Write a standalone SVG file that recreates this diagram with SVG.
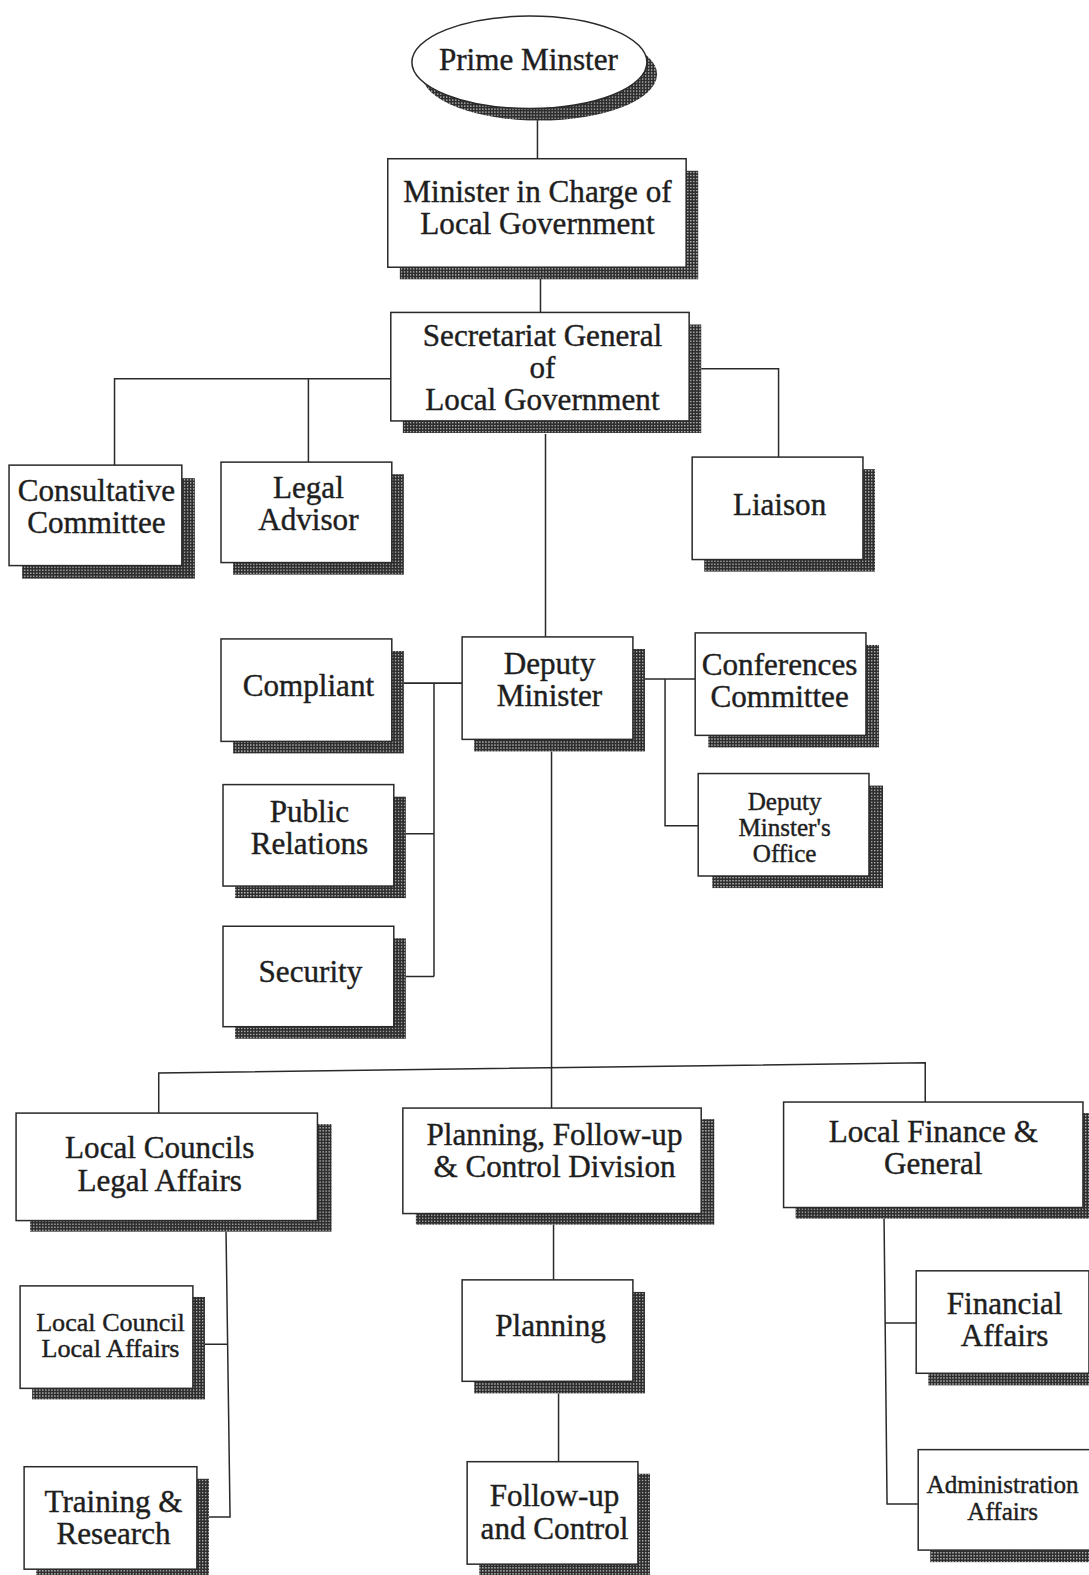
<svg xmlns="http://www.w3.org/2000/svg" width="1089" height="1575" viewBox="0 0 1089 1575">
  <defs>
    <!-- fine halftone used for the drop shadows -->
    <pattern id="dots" width="3" height="3" patternUnits="userSpaceOnUse">
      <rect width="3" height="3" fill="#2e2e2e"/>
      <rect x="0" y="0" width="1.3" height="1.3" fill="#bdbdbd"/>
    </pattern>
  </defs>
  <style>
    .box { fill: #ffffff; stroke: #2a2a2a; stroke-width: 1.5; }
    .shd { fill: url(#dots); }
    .lbl { font-family: "Liberation Serif", "Times New Roman", serif; font-size: 31px; fill: #1e1e1e; stroke: #1e1e1e; stroke-width: 0.4; text-anchor: middle; }
    .sm { font-size: 25px; }
    .ln { fill: none; stroke: #2a2a2a; stroke-width: 1.5; }
  </style>
  <rect width="1089" height="1575" fill="#ffffff"/>
  <g transform="scale(1.0046)">
    <!-- connectors -->
    <g id="connectors" class="ln">
      <path d="M535 106 V158"/>
      <path d="M538 266 V311"/>
      <path d="M389 377 H114 V463 M307 377 V460"/>
      <path d="M698 367 H775 V455"/>
      <path d="M543 432 V634"/>
      <path d="M402 680 H460 M432 680 V972 M404 830 H432 M404 972 H432"/>
      <path d="M642 676 H692 M662 676 V822 H695"/>
      <path d="M549 748 V1103"/>
      <path d="M158 1108 V1068 L921 1058 V1097"/>
      <path d="M225 1226 L229 1510 H208 M204 1338 H226"/>
      <path d="M551 1219 V1274"/>
      <path d="M556 1387 V1455"/>
      <path d="M880 1213 L883 1497 H914 M881 1317 H912"/>
    </g>

    <g id="prime-minister">
      <ellipse class="shd" cx="537" cy="74" rx="117" ry="46"/>
      <ellipse class="box" cx="527" cy="62" rx="117" ry="46"/>
      <text class="lbl" x="526" y="70">Prime Minster</text>
    </g>

    <g id="minister-local-gov">
      <rect class="shd" x="398" y="170" width="297" height="108"/>
      <rect class="box" x="386" y="158" width="297" height="108"/>
      <text class="lbl" x="535" y="201">Minister in Charge of</text>
      <text class="lbl" x="535" y="233">Local Government</text>
    </g>

    <g id="secretariat-general">
      <rect class="shd" x="401" y="323" width="297" height="108"/>
      <rect class="box" x="389" y="311" width="297" height="108"/>
      <text class="lbl" x="540" y="344">Secretariat General</text>
      <text class="lbl" x="540" y="376">of</text>
      <text class="lbl" x="540" y="408">Local Government</text>
    </g>

    <g id="consultative-committee">
      <rect class="shd" x="22" y="476" width="172" height="100"/>
      <rect class="box" x="9" y="463" width="172" height="100"/>
      <text class="lbl" x="96" y="498.5">Consultative</text>
      <text class="lbl" x="96" y="530.5">Committee</text>
    </g>

    <g id="legal-advisor">
      <rect class="shd" x="232" y="472" width="170" height="100"/>
      <rect class="box" x="220" y="460" width="170" height="100"/>
      <text class="lbl" x="307" y="495.5">Legal</text>
      <text class="lbl" x="307" y="527.5">Advisor</text>
    </g>

    <g id="liaison">
      <rect class="shd" x="701" y="467" width="170" height="102"/>
      <rect class="box" x="689" y="455" width="170" height="102"/>
      <text class="lbl" x="776" y="513">Liaison</text>
    </g>

    <g id="deputy-minister">
      <rect class="shd" x="472" y="646" width="170" height="102"/>
      <rect class="box" x="460" y="634" width="170" height="102"/>
      <text class="lbl" x="547" y="670.5">Deputy</text>
      <text class="lbl" x="547" y="702.5">Minister</text>
    </g>

    <g id="compliant">
      <rect class="shd" x="232" y="648" width="170" height="102"/>
      <rect class="box" x="220" y="636" width="170" height="102"/>
      <text class="lbl" x="307" y="693">Compliant</text>
    </g>

    <g id="conferences-committee">
      <rect class="shd" x="705" y="642" width="170" height="102"/>
      <rect class="box" x="692" y="630" width="170" height="102"/>
      <text class="lbl" x="776" y="672">Conferences</text>
      <text class="lbl" x="776" y="704">Committee</text>
    </g>

    <g id="deputy-office">
      <rect class="shd" x="709" y="782" width="170" height="102"/>
      <rect class="box" x="695" y="770" width="170" height="102"/>
      <text class="lbl sm" x="781" y="806">Deputy</text>
      <text class="lbl sm" x="781" y="832">Minster's</text>
      <text class="lbl sm" x="781" y="858">Office</text>
    </g>

    <g id="public-relations">
      <rect class="shd" x="234" y="793" width="170" height="101"/>
      <rect class="box" x="222" y="781" width="170" height="101"/>
      <text class="lbl" x="308" y="818">Public</text>
      <text class="lbl" x="308" y="850">Relations</text>
    </g>

    <g id="security">
      <rect class="shd" x="234" y="934" width="170" height="100"/>
      <rect class="box" x="222" y="922" width="170" height="100"/>
      <text class="lbl" x="309" y="978">Security</text>
    </g>

    <g id="councils-legal">
      <rect class="shd" x="30" y="1119" width="300" height="107"/>
      <rect class="box" x="16" y="1108" width="300" height="107"/>
      <text class="lbl" x="159" y="1153">Local Councils</text>
      <text class="lbl" x="159" y="1186">Legal Affairs</text>
    </g>

    <g id="planning-division">
      <rect class="shd" x="414" y="1114" width="297" height="105"/>
      <rect class="box" x="401" y="1103" width="297" height="105"/>
      <text class="lbl" x="552" y="1139.5">Planning, Follow-up</text>
      <text class="lbl" x="552" y="1171.5">&amp; Control Division</text>
    </g>

    <g id="local-finance">
      <rect class="shd" x="792" y="1108" width="298" height="105"/>
      <rect class="box" x="780" y="1097" width="298" height="105"/>
      <text class="lbl" x="929" y="1137">Local Finance &amp;</text>
      <text class="lbl" x="929" y="1169">General</text>
    </g>

    <g id="council-local-affairs">
      <rect class="shd" x="32" y="1291" width="172" height="102"/>
      <rect class="box" x="20" y="1280" width="172" height="102"/>
      <text class="lbl" x="110" y="1325" style="font-size:26px">Local Council</text>
      <text class="lbl" x="110" y="1351" style="font-size:26px">Local Affairs</text>
    </g>

    <g id="planning">
      <rect class="shd" x="472" y="1286" width="170" height="101"/>
      <rect class="box" x="460" y="1274" width="170" height="101"/>
      <text class="lbl" x="548" y="1330">Planning</text>
    </g>

    <g id="financial-affairs">
      <rect class="shd" x="924" y="1277" width="172" height="102"/>
      <rect class="box" x="912" y="1265" width="172" height="102"/>
      <text class="lbl" x="1000" y="1308">Financial</text>
      <text class="lbl" x="1000" y="1340">Affairs</text>
    </g>

    <g id="training-research">
      <rect class="shd" x="36" y="1472" width="172" height="102"/>
      <rect class="box" x="24" y="1460" width="172" height="102"/>
      <text class="lbl" x="113" y="1505">Training &amp;</text>
      <text class="lbl" x="113" y="1537">Research</text>
    </g>

    <g id="follow-up-control">
      <rect class="shd" x="477" y="1467" width="170" height="102"/>
      <rect class="box" x="465" y="1455" width="170" height="102"/>
      <text class="lbl" x="552" y="1499.5">Follow-up</text>
      <text class="lbl" x="552" y="1531.5">and Control</text>
    </g>

    <g id="administration-affairs">
      <rect class="shd" x="926" y="1455" width="172" height="100"/>
      <rect class="box" x="914" y="1443" width="172" height="100"/>
      <text class="lbl sm" x="998" y="1486">Administration</text>
      <text class="lbl sm" x="998" y="1513">Affairs</text>
    </g>
  </g>
</svg>
